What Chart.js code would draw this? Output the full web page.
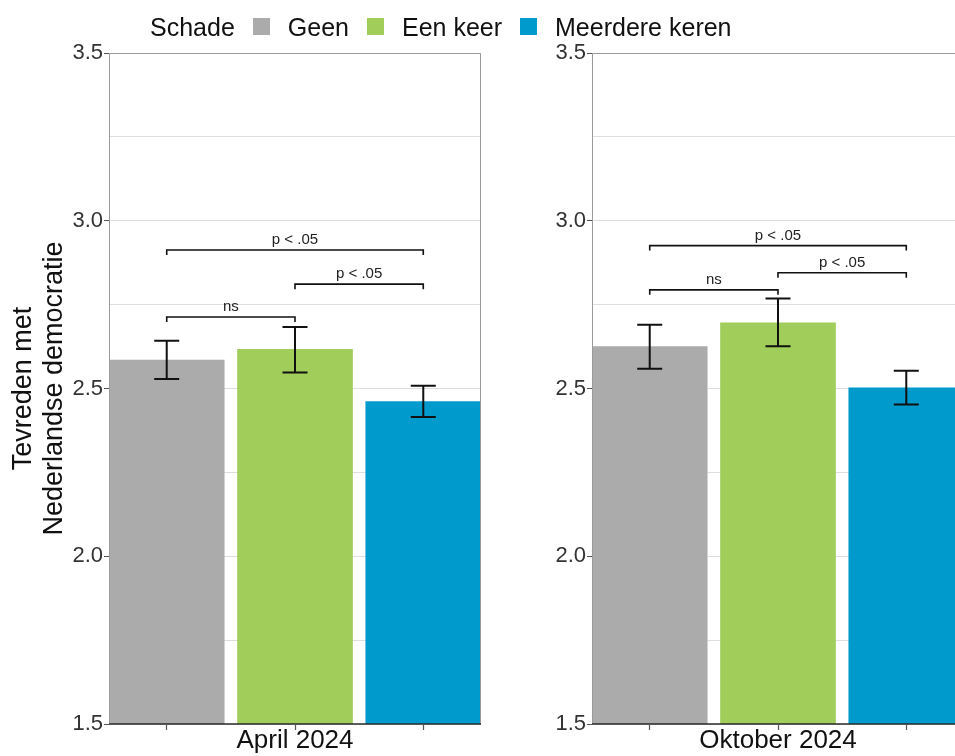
<!DOCTYPE html>
<html>
<head>
<meta charset="utf-8">
<script src="https://cdn.jsdelivr.net/npm/chart.js@4.4.0/dist/chart.umd.min.js"></script>
<style>
  body { margin: 0; width: 955px; height: 756px; overflow: hidden; background: #fff; position: relative;
         font-family: "Liberation Sans", Arial, sans-serif; }
  #legend { position: absolute; left: 150px; top: 12.5px; display: flex; align-items: center; gap: 18px;
            font-size: 25px; line-height: 28px; color: #111; white-space: nowrap; z-index: 2; }
  #legend .sw { width: 17px; height: 17px; display: inline-block; }
  .box { position: absolute; top: 0; height: 756px; }
</style>
</head>
<body>
<div id="legend"></div>
<div class="box" style="left:0;width:490px"><canvas id="april"></canvas></div>
<div class="box" style="left:490px;width:474px"><canvas id="oktober"></canvas></div>
<script>
// data
var legendTitle = "Schade";
var categories = ["Geen", "Een keer", "Meerdere keren"];
var periods = ["April 2024", "Oktober 2024"];

var aprilMeans = [2.585, 2.617, 2.461];
var aprilLow   = [2.528, 2.548, 2.415];
var aprilHigh  = [2.642, 2.683, 2.508];

var oktoberMeans = [2.625, 2.696, 2.502];
var oktoberLow   = [2.559, 2.626, 2.452];
var oktoberHigh  = [2.690, 2.768, 2.553];

var yTicks = [1.5, 2.0, 2.5, 3.0, 3.5];

// significance brackets: from bar, to bar, height, label
var aprilTests   = [[1, 3, 2.913, "p < .05"], [2, 3, 2.811, "p < .05"], [1, 2, 2.713, "ns"]];
var oktoberTests = [[1, 3, 2.926, "p < .05"], [2, 3, 2.845, "p < .05"], [1, 2, 2.794, "ns"]];

var colors = ["#ababab", "#a1cd5b", "#009acd"];
var FONT = "'Liberation Sans', Arial, sans-serif";
Chart.defaults.font.family = FONT;

// legend (html)
var lg = document.getElementById("legend");
lg.innerHTML = "<span>" + legendTitle + "</span>" + categories.map(function (c, i) {
  return '<span class="sw" style="background:' + colors[i] + '"></span><span>' + c + "</span>";
}).join("");

// error bars, brackets and panel frame
function extras(low, high, tests) {
  return {
    id: "extras",
    afterDatasetsDraw: function (chart) {
      var ctx = chart.ctx, x = chart.scales.x, y = chart.scales.y, a = chart.chartArea;
      ctx.save();
      // frame
      ctx.lineWidth = 1;
      ctx.strokeStyle = "#9a9a9a";
      ctx.beginPath();
      ctx.moveTo(a.left + 0.5, a.bottom);
      ctx.lineTo(a.left + 0.5, a.top + 0.5);
      ctx.lineTo(a.right - 0.5, a.top + 0.5);
      ctx.lineTo(a.right - 0.5, a.bottom);
      ctx.stroke();
      ctx.strokeStyle = "#2a2a2a";
      ctx.lineWidth = 1.6;
      ctx.beginPath();
      ctx.moveTo(a.left, a.bottom);
      ctx.lineTo(a.right, a.bottom);
      ctx.stroke();

      // error bars
      ctx.strokeStyle = "#111";
      ctx.lineWidth = 2;
      low.forEach(function (lo, i) {
        var cx = x.getPixelForValue(i + 1);
        var y1 = y.getPixelForValue(lo), y2 = y.getPixelForValue(high[i]);
        ctx.beginPath();
        ctx.moveTo(cx, y1); ctx.lineTo(cx, y2);
        ctx.moveTo(cx - 12.5, y1); ctx.lineTo(cx + 12.5, y1);
        ctx.moveTo(cx - 12.5, y2); ctx.lineTo(cx + 12.5, y2);
        ctx.stroke();
      });

      // brackets
      ctx.lineWidth = 1.6;
      ctx.font = "15px " + FONT;
      ctx.fillStyle = "#222";
      ctx.textAlign = "center";
      ctx.textBaseline = "alphabetic";
      tests.forEach(function (t) {
        var x1 = x.getPixelForValue(t[0]), x2 = x.getPixelForValue(t[1]), yy = y.getPixelForValue(t[2]);
        ctx.beginPath();
        ctx.moveTo(x1, yy + 5); ctx.lineTo(x1, yy); ctx.lineTo(x2, yy); ctx.lineTo(x2, yy + 5);
        ctx.stroke();
        ctx.fillText(t[3], (x1 + x2) / 2, yy - 6);
      });
      ctx.restore();
    }
  };
}

function panel(id, period, means, low, high, tests, showTitle, yWidth, padRight) {
  return new Chart(id, {
    type: "bar",
    data: {
      datasets: [{
        data: means.map(function (m, i) { return { x: i + 1, y: m }; }),
        backgroundColor: colors,
        borderWidth: 0,
        barThickness: 115
      }]
    },
    options: {
      responsive: true,
      maintainAspectRatio: false,
      animation: false,
      layout: { padding: { top: 53, left: 0, right: padRight, bottom: 0 } },
      plugins: { legend: { display: false }, tooltip: { enabled: false } },
      scales: {
        x: {
          type: "linear",
          offset: false,
          min: 0.55,
          max: 3.45,
          afterBuildTicks: function (s) {
            s.ticks = categories.map(function (c, i) { return { value: i + 1 }; });
          },
          afterFit: function (s) { s.height = 32; },
          ticks: { display: false },
          grid: { offset: false, drawOnChartArea: false, tickLength: 6, tickColor: "#555", tickWidth: 1.2 },
          border: { display: false },
          title: { display: true, text: period, color: "#111", font: { size: 26 }, padding: 0 }
        },
        y: {
          min: 1.5,
          max: 3.5,
          afterFit: function (s) { s.width = yWidth; },
          ticks: {
            stepSize: 0.25,
            padding: 1,
            color: "#333",
            font: { size: 22 },
            callback: function (v) { return yTicks.indexOf(v) >= 0 ? v.toFixed(1) : ""; }
          },
          grid: {
            color: "#dedede",
            lineWidth: 1,
            tickLength: 5,
            tickColor: function (c) {
              return c.tick && yTicks.indexOf(c.tick.value) >= 0 ? "#555" : "rgba(0,0,0,0)";
            }
          },
          border: { display: false },
          title: {
            display: showTitle,
            text: ["Tevreden met", "Nederlandse democratie"],
            color: "#111",
            font: { size: 27, lineHeight: 1.15 },
            padding: { top: 8, bottom: 0 }
          }
        }
      }
    },
    plugins: [extras(low, high, tests)]
  });
}

panel("april", periods[0], aprilMeans, aprilLow, aprilHigh, aprilTests, true, 109, 9);
panel("oktober", periods[1], oktoberMeans, oktoberLow, oktoberHigh, oktoberTests, false, 102, 0);
</script>
</body>
</html>
